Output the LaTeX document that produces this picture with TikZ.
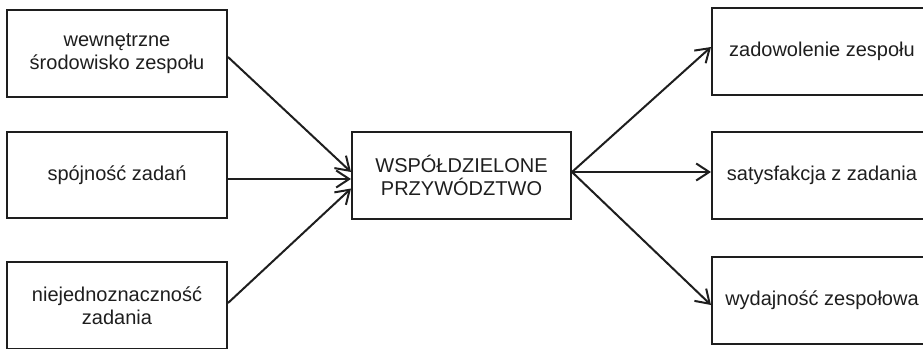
\documentclass[tikz,border=0pt]{standalone}
\usepackage{fontspec}
\setmainfont{Liberation Sans}
\usetikzlibrary{arrows.meta}
\definecolor{ink}{HTML}{1E1E1E}
\tikzset{
  box/.style={draw=ink, line width=2pt, minimum width=220pt, minimum height=87pt,
    align=center, inner sep=0pt, text=ink, font=\fontsize{20pt}{23pt}\selectfont},
  conn/.style={draw=ink, line width=2pt,
    -{Straight Barb[length=13pt,width=17pt,line width=2pt]}}
}
\begin{document}
\begin{tikzpicture}[x=1pt,y=-1pt]
\useasboundingbox (0,0) rectangle (923,348);
\node[box] (b1) at (117,53.5) {wewnętrzne\\środowisko zespołu};
\node[box, minimum height=86pt] (b2) at (117,175) {spójność zadań};
\node[box] (b3) at (117,305.5) {niejednoznaczność\\zadania};
\node[box, minimum width=219pt] (c) at (461.5,175.5) {WSPÓŁDZIELONE\\PRZYWÓDZTWO};
\node[box] (r1) at (822,51.5) {zadowolenie zespołu};
\node[box] (r2) at (822,175.5) {satysfakcja z zadania};
\node[box] (r3) at (822,300.5) {wydajność zespołowa};
\draw[conn] ([yshift=-3.5pt]b1.east) -- ([yshift=3.5pt]c.west);
\draw[conn] ([yshift=-4pt]b2.east) -- ([yshift=-3.5pt]c.west);
\draw[conn] ([yshift=2.5pt]b3.east) -- ([yshift=-13pt]c.west);
\draw[conn] ([yshift=3.5pt]c.east) -- ([yshift=4.5pt]r1.west);
\draw[conn] ([yshift=3.5pt]c.east) -- ([yshift=3.5pt]r2.west);
\draw[conn] ([yshift=3.5pt]c.east) -- ([yshift=-4.5pt]r3.west);
\end{tikzpicture}
\end{document}
